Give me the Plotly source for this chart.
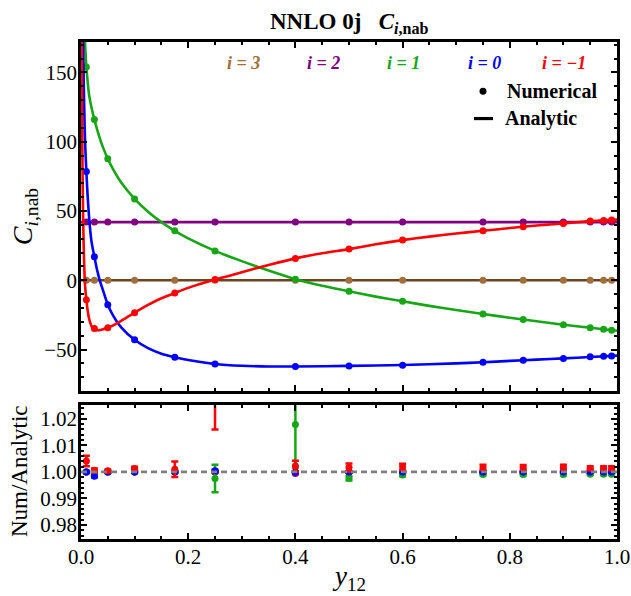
import plotly.graph_objects as go

# ---------------- data ----------------
x_pts = [0.01, 0.025, 0.05, 0.1, 0.175, 0.25, 0.4, 0.5, 0.6, 0.75, 0.825, 0.9, 0.95, 0.975, 0.99]

num_i3 = [0.0] * 15
num_i2 = [42.0] * 15
num_i1 = [154, 116, 87.7, 58.7, 35.7, 21.2, 0.7, -8, -15.2, -24.4, -28.3, -32.1, -34.3, -35.3, -36]
num_i0 = [78.5, 16.9, -17.6, -43, -55.6, -60.4, -62.3, -61.8, -61.4, -59.2, -57.7, -56.5, -55.3, -54.8, -54.6]
num_im1 = [-14, -34.8, -34.3, -23.4, -9.2, 0.5, 15.8, 22.5, 29, 35.7, 38.6, 41, 42.7, 43.2, 43.5]

# analytic curves
ana_i3_x = [0.0, 1.0]
ana_i3_y = [0.0, 0.0]
ana_i2_x = [0.0, 1.0]
ana_i2_y = [42.0, 42.0]
ana_i1_x = [0.0065, 0.0075, 0.0085, 0.01, 0.0125, 0.015, 0.02, 0.025, 0.03, 0.04, 0.05, 0.06, 0.075,
            0.1, 0.125, 0.15, 0.175, 0.2, 0.25, 0.3, 0.35, 0.4, 0.45, 0.5, 0.55, 0.6, 0.65, 0.7, 0.75,
            0.8, 0.85, 0.9, 0.95, 1.0]
ana_i1_y = [182, 172, 164, 154, 143, 134, 124, 116, 109, 97, 87.7, 80, 70.5,
            58.7, 49.5, 42, 35.7, 30.2, 21.2, 13.8, 7, 0.8, -4, -8, -11.8, -15.2, -18.5, -21.5, -24.4,
            -27, -29.6, -32.1, -34.3, -36.5]
ana_i0_x = [0.0035, 0.004, 0.005, 0.006, 0.007, 0.008, 0.01, 0.0125, 0.015, 0.0175, 0.02, 0.025, 0.03,
            0.035, 0.04, 0.05, 0.06, 0.075, 0.1, 0.125, 0.15, 0.175, 0.2, 0.25, 0.3, 0.35, 0.4, 0.5,
            0.6, 0.7, 0.75, 0.8, 0.85, 0.9, 0.95, 1.0]
ana_i0_y = [185, 172, 145, 125, 108, 96, 78.5, 60, 46, 35, 27, 16.9, 7.5,
            0, -6, -17.6, -25.5, -34, -43, -49, -53, -55.6, -57.6, -60.4, -61.7, -62.2, -62.3, -61.8,
            -61.2, -60, -59.2, -58.2, -57.3, -56.4, -55.4, -54.4]
ana_im1_x = [0.0012, 0.002, 0.003, 0.004, 0.005, 0.0065, 0.008, 0.01, 0.0125, 0.015, 0.0175, 0.02,
             0.025, 0.03, 0.035, 0.04, 0.05, 0.06, 0.075, 0.1, 0.125, 0.15, 0.175, 0.2, 0.25, 0.3,
             0.35, 0.4, 0.45, 0.5, 0.55, 0.6, 0.65, 0.7, 0.75, 0.8, 0.85, 0.9, 0.95, 1.0]
ana_im1_y = [180, 120, 75, 45, 25, 5, -6, -14, -22, -27.5, -31, -33.5,
             -35.3, -36, -36, -35.5, -34.3, -32.5, -29.3, -23.4, -17.8, -13, -9.2, -5.5, 0.5, 5.8,
             11, 15.8, 19.5, 22.5, 26, 29, 31.5, 33.8, 35.7, 37.7, 39.5, 41, 42.7, 43.8]

# ratio Num/Analytic with errors
rat_i3 = [1.0] * 15
err_i3 = [0.0002] * 15
rat_i2 = [1.0, 1.0, 1.0, 1.0, 1.0, 1.0, 0.9994, 1.0, 1.0, 1.0, 1.0, 1.0, 1.0, 1.0, 1.0]
err_i2 = [0.0002] * 15
rat_i1 = [1.0, 1.0, 1.0, 1.0, 1.0, 0.9975, 1.0179, 0.9976, 0.9988, 0.999, 0.999, 0.999, 0.9991, 0.9991, 0.9991]
err_i1 = [0.0002, 0.0002, 0.0002, 0.0002, 0.0003, 0.0052, 0.0162, 0.0008, 0.0004, 0.0003, 0.0003, 0.0003, 0.0003, 0.0003, 0.0003]
rat_i0 = [1.0, 0.9984, 1.0, 1.0, 1.0, 1.0004, 1.0, 1.0, 1.0, 1.0, 1.0, 1.0, 1.0, 1.0, 1.0]
err_i0 = [0.0003, 0.0004, 0.0003, 0.0002, 0.0002, 0.0004, 0.0002, 0.0002, 0.0002, 0.0002, 0.0002, 0.0002, 0.0002, 0.0002, 0.0002]
rat_im1 = [1.0041, 1.0006, 1.0004, 1.0013, 1.0010, 1.032, 1.0022, 1.0017, 1.0019, 1.0017, 1.0017, 1.0018, 1.0014, 1.0014, 1.0014]
err_im1 = [0.0020, 0.0007, 0.0004, 0.0006, 0.0029, 0.016, 0.0020, 0.0015, 0.0012, 0.0010, 0.0009, 0.0009, 0.0007, 0.0007, 0.0007]

labels = ["i = 3", "i = 2", "i = 1", "i = 0", "i = \u22121"]

# ---------------- styling ----------------
C_BROWN_LINE = "#6b4423"
C_BROWN = "#a0703c"
C_PURPLE = "#800080"
C_GREEN = "#16a616"
C_BLUE = "#0000ff"
C_RED = "#ff0000"
FONT = "Liberation Serif"

W, H = 631, 596
# plot frame in screen pixels
FL, FR, FT, FB = 81, 617, 41.7, 539
L, T = FL, FT
R, B = W - FR, H - FB
PW, PH = W - L - R, H - T - B


def px(xs):
    return (xs - FL) / PW


def py(ys):
    return (FB - ys) / PH


fig = go.Figure()

series = [
    (ana_i3_x, ana_i3_y, num_i3, C_BROWN_LINE, C_BROWN, rat_i3, err_i3),
    (ana_i2_x, ana_i2_y, num_i2, C_PURPLE, C_PURPLE, rat_i2, err_i2),
    (ana_i1_x, ana_i1_y, num_i1, C_GREEN, C_GREEN, rat_i1, err_i1),
    (ana_i0_x, ana_i0_y, num_i0, C_BLUE, C_BLUE, rat_i0, err_i0),
    (ana_im1_x, ana_im1_y, num_im1, C_RED, C_RED, rat_im1, err_im1),
]

for ax, ay, ny, lc, mc, rr, ee in series:
    fig.add_trace(go.Scatter(x=ax, y=ay, mode="lines", line=dict(color=lc, width=2.6, shape="spline", smoothing=0.6),
                             xaxis="x", yaxis="y", showlegend=False, hoverinfo="skip"))
    fig.add_trace(go.Scatter(x=x_pts, y=ny, mode="markers", marker=dict(color=mc, size=7),
                             xaxis="x", yaxis="y", showlegend=False))

for ax, ay, ny, lc, mc, rr, ee in series:
    fig.add_trace(go.Scatter(x=x_pts, y=rr, mode="markers", marker=dict(color=mc, size=7),
                             error_y=dict(type="data", array=ee, color=mc, thickness=2.5, width=3.5),
                             xaxis="x2", yaxis="y2", showlegend=False))

axis_common = dict(showline=True, linewidth=2.6, linecolor="black", mirror="allticks", ticks="inside",
                   ticklen=6, tickwidth=2, tickcolor="black", showgrid=False, zeroline=False,
                   automargin=False,
                   tickfont=dict(family=FONT, size=21, color="black"))
minor_common = dict(ticks="inside", ticklen=3.5, tickwidth=1.8, tickcolor="black")

top_dom = [py(391), 1.0]
bot_dom = [0.0, py(405)]

fig.update_layout(
    width=W, height=H, autosize=False,
    margin=dict(l=L, r=R, t=T, b=B, pad=0, autoexpand=False),
    paper_bgcolor="white", plot_bgcolor="white",
    showlegend=False,
    xaxis=dict(domain=[0, 1], range=[0, 1], anchor="y", dtick=0.2, tick0=0, showticklabels=False,
               minor=dict(dtick=0.05, tick0=0, **minor_common), **axis_common),
    yaxis=dict(domain=top_dom, range=[-80, 172], anchor="x", dtick=50, tick0=0, ticklabelstandoff=-3,
               minor=dict(dtick=10, tick0=0, **minor_common), **axis_common),
    xaxis2=dict(domain=[0, 1], range=[0, 1], anchor="y2", dtick=0.2, tick0=0, tickformat=".1f",
                ticklabelstandoff=-3, ticklabeloverflow="allow",
                minor=dict(dtick=0.05, tick0=0, **minor_common), **axis_common),
    yaxis2=dict(domain=bot_dom, range=[0.9747, 1.0252], anchor="x2", dtick=0.01, tick0=1.0, tickformat=".2f",
                ticklabelstandoff=-3,
                minor=dict(dtick=0.002, tick0=1.0, **minor_common), **axis_common),
)

fig.add_shape(type="line", xref="x2", yref="y2", x0=0, x1=1, y0=1.0, y1=1.0,
              line=dict(color="#808080", width=2.6, dash="6px,4px"), layer="above")

ann = []
ann.append(dict(text="<b>NNLO 0j</b>   <b><i>C</i><sub><i>i</i>,nab</sub></b>", x=px(268), y=py(23),
                xref="paper", yref="paper", xanchor="left", yanchor="middle", showarrow=False,
                font=dict(family=FONT, size=23, color="black")))
label_cols = [C_BROWN, C_PURPLE, C_GREEN, C_BLUE, C_RED]
label_x = [243, 323, 403, 484, 564]
for t, c, xx in zip(labels, label_cols, label_x):
    ann.append(dict(text="<b><i>" + t + "</i></b>", x=px(xx), y=py(63), xref="paper", yref="paper",
                    xanchor="center", yanchor="middle", showarrow=False,
                    font=dict(family=FONT, size=18, color=c)))
ann.append(dict(text="<b>Numerical</b>", x=px(505), y=py(91), xref="paper", yref="paper",
                xanchor="left", yanchor="middle", showarrow=False, font=dict(family=FONT, size=20, color="black")))
ann.append(dict(text="<b>Analytic</b>", x=px(503), y=py(118), xref="paper", yref="paper",
                xanchor="left", yanchor="middle", showarrow=False, font=dict(family=FONT, size=20, color="black")))
ann.append(dict(text="<i>C</i><sub><i>i</i>,nab</sub>", x=px(24), y=py(216), xref="paper", yref="paper",
                xanchor="center", yanchor="middle", textangle=-90, showarrow=False,
                font=dict(family=FONT, size=28, color="black")))
ann.append(dict(text="Num/Analytic", x=px(19), y=py(471), xref="paper", yref="paper",
                xanchor="center", yanchor="middle", textangle=-90, showarrow=False,
                font=dict(family=FONT, size=23, color="black")))
ann.append(dict(text="<i>y</i><sub>12</sub>", x=px(349), y=py(578), xref="paper", yref="paper",
                xanchor="center", yanchor="middle", showarrow=False,
                font=dict(family=FONT, size=27, color="black")))
fig.update_layout(annotations=ann)

fig.add_shape(type="circle", xref="paper", yref="paper",
              x0=px(479.5), x1=px(486.5), y0=py(94.5), y1=py(87.5),
              fillcolor="black", line=dict(color="black", width=0))
fig.add_shape(type="line", xref="paper", yref="paper", x0=px(474), x1=px(493), y0=py(118.3), y1=py(118.3),
              line=dict(color="black", width=3.2))

fix_js = (
    "document.body.style.margin='0px';"
    "document.body.style.overflow='hidden';"
    "document.documentElement.style.overflow='hidden';"
)

fig.write_html("out.html", config={"displayModeBar": False}, post_script=fix_js)
